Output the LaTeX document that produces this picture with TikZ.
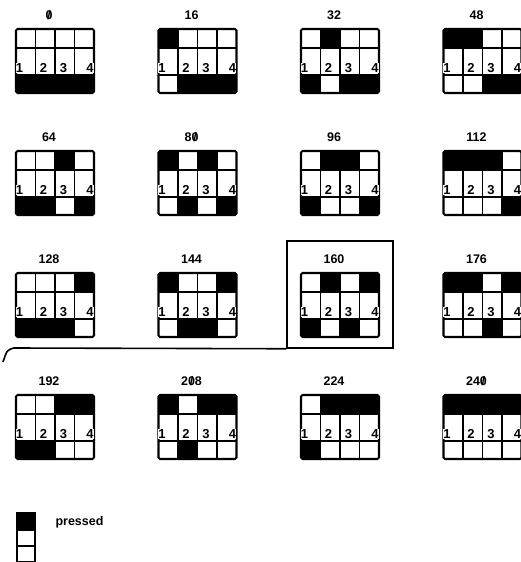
\documentclass[tikz,border=0pt]{standalone}
\usepackage{fontspec}
\setmainfont{Liberation Sans}
\newcommand\slz{\ooalign{0\cr\hidewidth/\hidewidth\cr}}

\begin{document}
\begin{tikzpicture}[x=1pt,y=-1pt,
  grid/.style={line width=1.6pt},
  rim/.style={line width=2.1pt,rounded corners=1.5pt},
  keynum/.style={font=\fontsize{13}{13}\selectfont\bfseries,fill=white,inner sep=0.3pt},
  caption/.style={font=\fontsize{12.5}{12.5}\selectfont\bfseries}]
\useasboundingbox (0,0) rectangle (521,562);

\foreach \k/\lab in {0/\slz,1/16,2/32,3/48,4/64,5/8\slz,6/96,7/112,8/128,9/144,10/160,11/176,12/192,13/2\slz8,14/224,15/24\slz}{
  \pgfmathsetmacro\px{16+142.5*mod(\k,4)}
  \pgfmathsetmacro\py{29+122*floor(\k/4)}
  \begin{scope}[shift={(\px,\py)}]
    \node[caption] (lab\k) at (33,-14) {\lab};
    % pressed cells: top row if bit set, bottom row otherwise
    \foreach \j in {0,...,3}{
      \pgfmathtruncatemacro\b{mod(floor(\k/2^\j),2)}
      \ifnum\b=1
        \fill (19.5*\j,0) rectangle ++(19.5,19);
      \else
        \fill (19.5*\j,46) rectangle ++(19.5,18);
      \fi
    }
    \draw[grid] (0,19) -- (78,19) (0,46) -- (78,46);
    \foreach \j in {1,2,3} \draw[grid] (19.5*\j,0) -- (19.5*\j,64);
    \draw[rim] (0,0) rectangle (78,64);
    \foreach \d/\dx in {1/3.5,2/8,3/8.5,4/15.5}
      \node[keynum] (n\k-\d) at (19.5*\d-19.5+\dx,39) {\d};
  \end{scope}
}

\node[draw,line width=1.5pt,minimum width=106pt,minimum height=107pt,inner sep=0pt] (hilite) at (340,294.5) {};
\coordinate (lead) at (3,362);
\draw[grid] (lead) .. controls (7,350) .. (14,348) -- (hilite.south west);

% legend
\draw[grid,fill=black] (17,513) rectangle (35,530);
\draw[grid] (17,530) rectangle (35,546) (17,546) rectangle (35,562);
\node[caption,anchor=west] (keytxt) at (52,522) {pressed};

\end{tikzpicture}
\end{document}
